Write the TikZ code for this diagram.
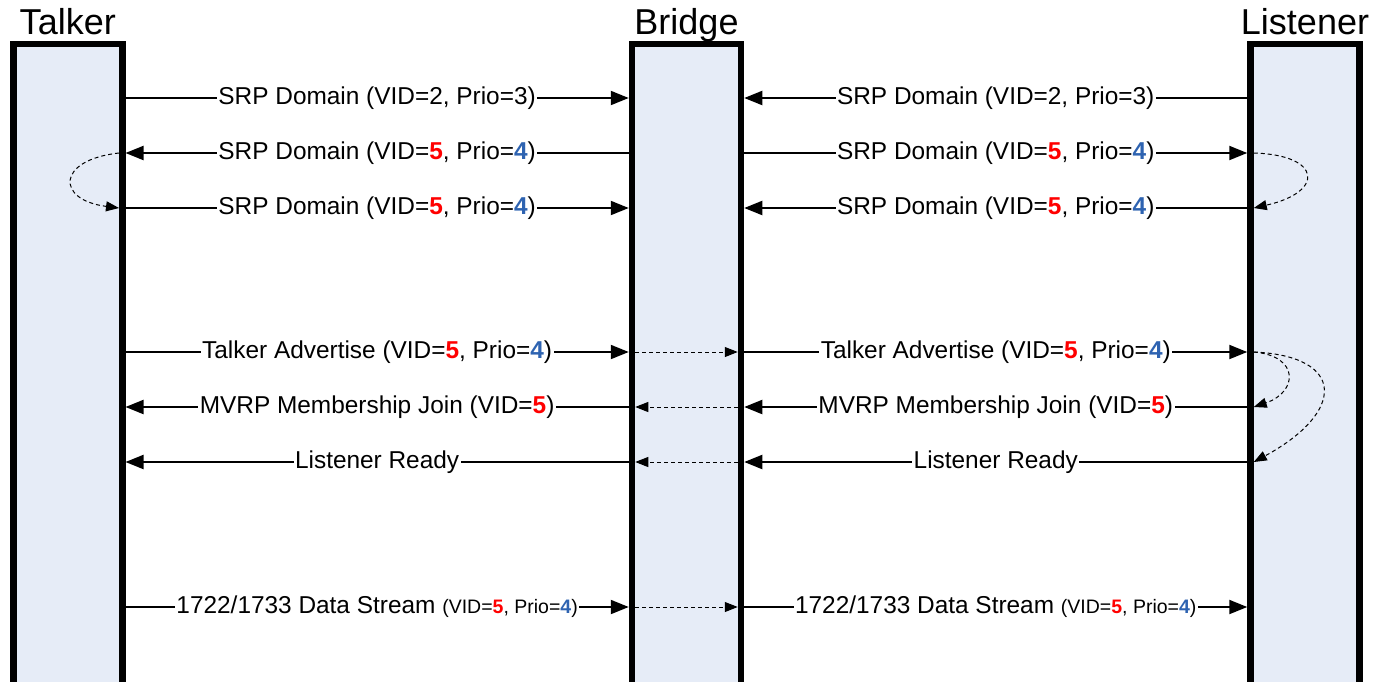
\documentclass[tikz,border=0pt]{standalone}
\usepackage{fontspec}
\setmainfont{Liberation Sans}
\usetikzlibrary{arrows.meta}
\definecolor{boxfill}{RGB}{230,236,247}
\definecolor{vidred}{RGB}{255,0,0}
\definecolor{prioblue}{RGB}{46,99,177}
\newcommand{\vidv}{\textcolor{vidred}{\textbf{5}}}
\newcommand{\priov}{\textcolor{prioblue}{\textbf{4}}}
\newcommand{\smalltag}[1]{{\fontsize{19.5}{23}\selectfont #1}}

\begin{document}
\begin{tikzpicture}[x=1pt,y=-1pt,
  lifeline/.style={rectangle,draw=black,line width=6.5pt,fill=boxfill,
    minimum width=109pt,minimum height=656pt,inner sep=0pt},
  head/.style={font=\fontsize{36}{40}\selectfont,anchor=base,inner sep=0pt},
  msg/.style={line width=2pt,-{Triangle[length=18pt,width=14pt]}},
  relay/.style={line width=1pt,dash pattern=on 4pt off 3pt,
    -{Triangle[length=13pt,width=10pt]}},
  lbl/.style={font=\fontsize{24.4}{28}\selectfont,fill=white,inner sep=1.5pt,midway}]
	\useasboundingbox (0,0) rectangle (1373,681);
	\clip (0,0) rectangle (1373,681);

	% lifelines
	\node[lifeline] (talker) at (67.75,372) {};
	\node[lifeline] (bridge) at (686.5,372) {};
	\node[lifeline] (listener) at (1305,372) {};
	\node[head] (talkerhead) at ([yshift=6pt]talker.north) {Talker};
	\node[head] (bridgehead) at ([yshift=6pt]bridge.north) {Bridge};
	\node[head] (listenerhead) at ([yshift=6pt]listener.north) {Listener};

	% inner edges of the borders
	\coordinate (tin) at ([xshift=-6.5pt]talker.east);
	\coordinate (bin) at ([xshift=6.5pt]bridge.west);
	\coordinate (bout) at ([xshift=-6.5pt]bridge.east);
	\coordinate (lin) at ([xshift=6.5pt]listener.west);

	\foreach \n/\y in {1/98,2/153,3/208,4/352,5/407,6/462,7/607}
		\coordinate (r\n) at (0,\y);

	% talker <-> bridge
	\draw[msg] (talker.east |- r1) -- (bridge.west |- r1) node[lbl] {SRP Domain (VID=2, Prio=3)};
	\draw[msg] (bridge.west |- r2) -- (talker.east |- r2) node[lbl] {SRP Domain (VID=\vidv, Prio=\priov)};
	\draw[msg] (talker.east |- r3) -- (bridge.west |- r3) node[lbl] {SRP Domain (VID=\vidv, Prio=\priov)};
	\draw[msg] (talker.east |- r4) -- (bridge.west |- r4) node[lbl] {Talker Advertise (VID=\vidv, Prio=\priov)};
	\draw[msg] (bridge.west |- r5) -- (talker.east |- r5) node[lbl] {MVRP Membership Join (VID=\vidv)};
	\draw[msg] (bridge.west |- r6) -- (talker.east |- r6) node[lbl] {Listener Ready};
	\draw[msg] (talker.east |- r7) -- (bridge.west |- r7) node[lbl] {1722/1733 Data Stream \smalltag{(VID=\vidv, Prio=\priov)}};

	% listener <-> bridge
	\draw[msg] (listener.west |- r1) -- (bridge.east |- r1) node[lbl] {SRP Domain (VID=2, Prio=3)};
	\draw[msg] (bridge.east |- r2) -- (listener.west |- r2) node[lbl] {SRP Domain (VID=\vidv, Prio=\priov)};
	\draw[msg] (listener.west |- r3) -- (bridge.east |- r3) node[lbl] {SRP Domain (VID=\vidv, Prio=\priov)};
	\draw[msg] (bridge.east |- r4) -- (listener.west |- r4) node[lbl] {Talker Advertise (VID=\vidv, Prio=\priov)};
	\draw[msg] (listener.west |- r5) -- (bridge.east |- r5) node[lbl] {MVRP Membership Join (VID=\vidv)};
	\draw[msg] (listener.west |- r6) -- (bridge.east |- r6) node[lbl] {Listener Ready};
	\draw[msg] (bridge.east |- r7) -- (listener.west |- r7) node[lbl] {1722/1733 Data Stream \smalltag{(VID=\vidv, Prio=\priov)}};

	% relayed inside the bridge
	\draw[relay] (bin |- r4) -- (bout |- r4);
	\draw[relay] (bout |- r5) -- (bin |- r5);
	\draw[relay] (bout |- r6) -- (bin |- r6);
	\draw[relay] (bin |- r7) -- (bout |- r7);

	% turned round at the end stations
	\draw[relay] (tin |- r2) .. controls (56,160) and (56,200) .. (tin |- r3);
	\draw[relay] (lin |- r2) .. controls (1322,155) and (1325,192) .. (lin |- r3);
	\draw[relay] (lin |- r4) .. controls (1300,356) and (1298,392) .. (lin |- r5);
	\draw[relay] (lin |- r4) .. controls (1346,356) and (1346,412) .. (lin |- r6);
\end{tikzpicture}
\end{document}
